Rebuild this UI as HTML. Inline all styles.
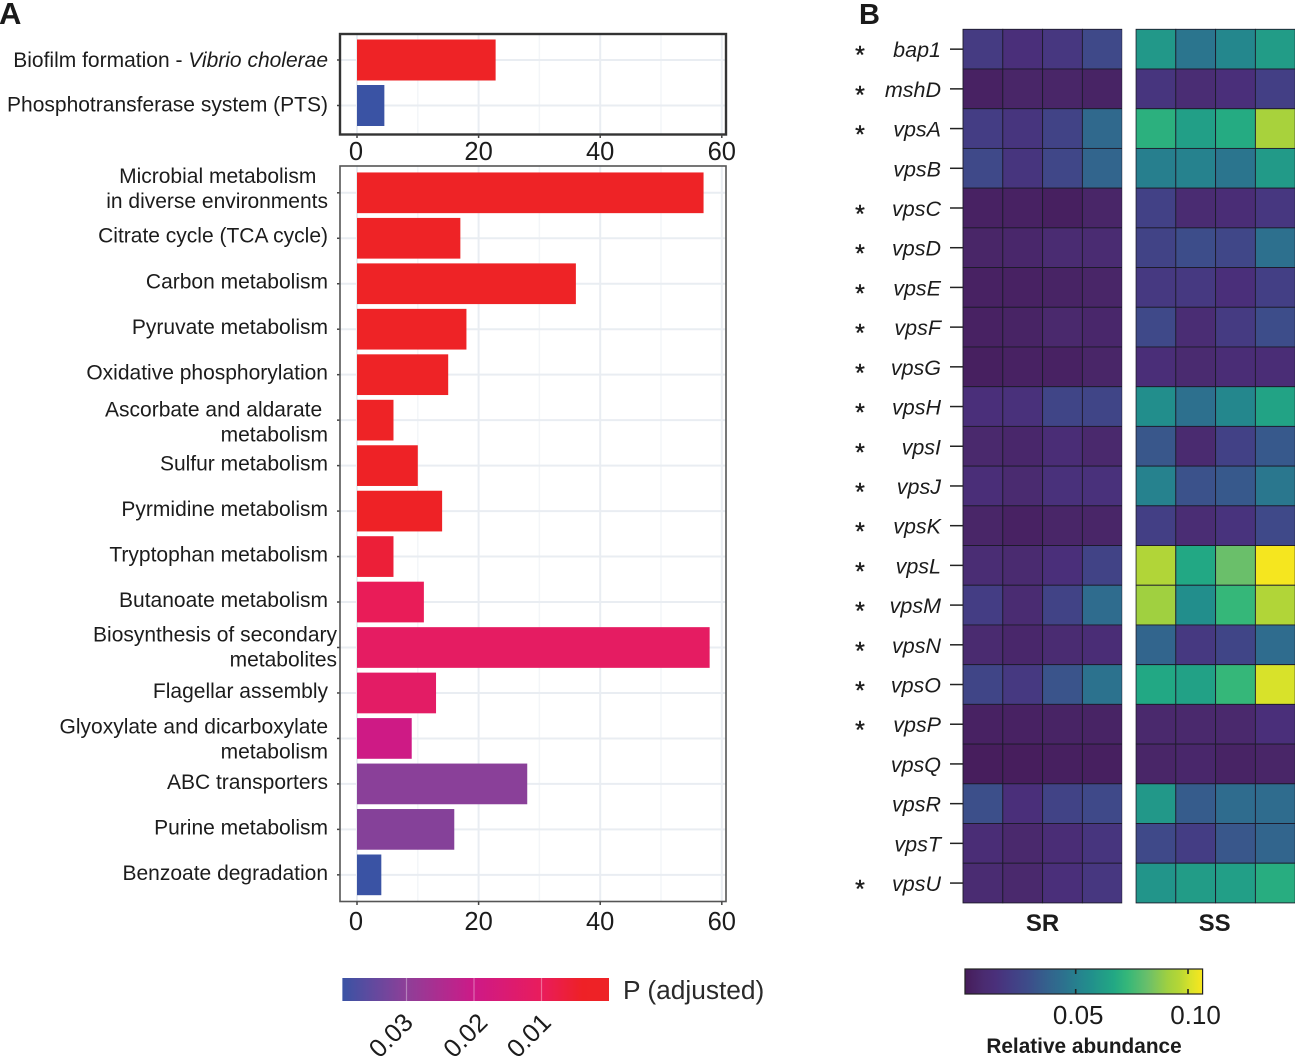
<!DOCTYPE html>
<html lang="en">
<head>
<meta charset="utf-8">
<title>KEGG enrichment and vps gene heatmap</title>
<style>
html,body{margin:0;padding:0;background:#fff;}
svg{display:block;font-family:"Liberation Sans",sans-serif;}
</style>
</head>
<body>
<svg id="figure" width="1295" height="1059" viewBox="0 0 1295 1059" xmlns="http://www.w3.org/2000/svg">
  <defs>
    <linearGradient id="p-gradient" x1="0" x2="1" y1="0" y2="0"></linearGradient>
    <linearGradient id="abundance-gradient" x1="0" x2="1" y1="0" y2="0"></linearGradient>
  </defs>
  <text x="-1" y="24" font-size="31" font-weight="bold" fill="#1a1a1a">A</text>
  <text x="859" y="24" font-size="29" font-weight="bold" fill="#1a1a1a">B</text>
  <g id="bars-layer"></g>
  <g id="heat-layer"></g>
</svg>
<script>
/* ---------- Panel A data ---------- */
const topCategories = [['Biofilm formation - |Vibrio cholerae'], ['Phosphotransferase system (PTS)']];
const topCounts = [22.8, 4.5];
const topPValues = [0.0001, 0.0395];

const mainCategories = [
  ['Microbial metabolism\u00a0\u00a0', 'in diverse environments'],
  ['Citrate cycle (TCA cycle)'],
  ['Carbon metabolism'],
  ['Pyruvate metabolism'],
  ['Oxidative phosphorylation'],
  ['Ascorbate and aldarate\u00a0', 'metabolism'],
  ['Sulfur metabolism'],
  ['Pyrmidine metabolism'],
  ['Tryptophan metabolism'],
  ['Butanoate metabolism'],
  ['Biosynthesis of secondary', 'metabolites'],
  ['Flagellar assembly'],
  ['Glyoxylate and dicarboxylate', 'metabolism'],
  ['ABC transporters'],
  ['Purine metabolism'],
  ['Benzoate degradation']
];
const mainCounts = [57, 17, 36, 18, 15, 6, 10, 14, 6, 11, 58, 13, 9, 28, 16, 4];
const mainPValues = [0.0001, 0.0002, 0.0003, 0.0005, 0.0008, 0.001, 0.0015, 0.002, 0.006, 0.0095, 0.0115, 0.012, 0.0195, 0.0305, 0.031, 0.0395];
const countTicks = [0, 20, 40, 60];
const countMinorTicks = [10, 30, 50];
const pTicks = [0.03, 0.02, 0.01];

/* ---------- Panel B data ---------- */
const genes = ['bap1','mshD','vpsA','vpsB','vpsC','vpsD','vpsE','vpsF','vpsG','vpsH','vpsI','vpsJ','vpsK','vpsL','vpsM','vpsN','vpsO','vpsP','vpsQ','vpsR','vpsT','vpsU'];
const significant = [1,1,1,0,1,1,1,1,1,1,1,1,1,1,1,1,1,1,0,0,0,1];
const groups = ['SR', 'SS'];
const srValues = [
  [.020,.014,.018,.027],[.004,.006,.006,.005],[.021,.017,.024,.041],[.027,.017,.026,.039],
  [.004,.004,.003,.006],[.006,.007,.010,.010],[.004,.004,.005,.006],[.004,.005,.008,.007],
  [.003,.004,.004,.006],[.014,.015,.025,.025],[.008,.007,.012,.008],[.013,.009,.015,.015],
  [.006,.004,.006,.006],[.011,.009,.014,.024],[.021,.010,.024,.042],[.009,.007,.010,.012],
  [.025,.019,.032,.045],[.004,.004,.005,.005],[.002,.002,.003,.003],[.030,.014,.024,.027],
  [.012,.008,.012,.017],[.010,.008,.014,.018]
];
const ssValues = [
  [.060,.046,.053,.062],[.017,.011,.014,.022],[.070,.063,.068,.093],[.050,.051,.046,.061],
  [.023,.010,.012,.018],[.024,.029,.026,.044],[.019,.019,.014,.022],[.027,.011,.020,.029],
  [.013,.009,.012,.012],[.056,.044,.053,.065],[.033,.009,.023,.034],[.051,.031,.034,.047],
  [.022,.011,.016,.027],[.095,.067,.082,.106],[.091,.056,.073,.095],[.039,.019,.025,.042],
  [.067,.064,.073,.101],[.008,.008,.008,.014],[.006,.007,.005,.006],[.060,.035,.042,.042],
  [.027,.021,.033,.039],[.059,.062,.063,.069]
];
const abundanceTicks = [0.05, 0.10];

/* ---------- helpers ---------- */
const NS = 'http://www.w3.org/2000/svg';
function make(parent, tag, attrs, txt) {
  const el = document.createElementNS(NS, tag);
  for (const k in attrs) el.setAttribute(k, attrs[k]);
  if (txt !== undefined) el.textContent = txt;
  parent.appendChild(el);
  return el;
}
function hexToRgb(h) { return [1, 3, 5].map(i => parseInt(h.substr(i, 2), 16)); }
function rampColor(stops, v) {
  if (v <= stops[0][0]) return stops[0][1];
  for (let i = 1; i < stops.length; i++) {
    if (v <= stops[i][0]) {
      const f = (v - stops[i-1][0]) / (stops[i][0] - stops[i-1][0]);
      const a = hexToRgb(stops[i-1][1]), b = hexToRgb(stops[i][1]);
      return 'rgb(' + a.map((c, j) => Math.round(c + (b[j] - c) * f)).join(',') + ')';
    }
  }
  return stops[stops.length-1][1];
}
/* label placement quirks of the multi-line category text in the original figure */
function labelShift(firstLine) {
  if (firstLine.indexOf('Microbial') === 0) return -3;
  if (firstLine.indexOf('Ascorbate') === 0) return 3.5;
  if (firstLine.indexOf('Biosynthesis') === 0) return 1;
  if (firstLine.indexOf('Glyoxylate') === 0) return 2;
  if (firstLine.indexOf('Citrate') === 0) return -1;
  if (firstLine.indexOf('Biofilm') === 0) return 2;
  if (firstLine.indexOf('Phospho') === 0) return 1;
  return 0;
}

/* ---------- scales ---------- */
const xCount = v => 357 + v * 6.08;
const xP = p => 609 - p * 6750;
const xAb = v => 1075.7 + (v - 0.05) * 2246;
const pRamp = [[0,'#ee2326'],[0.004,'#ee2126'],[0.01,'#e91c5c'],[0.02,'#cd1a87'],[0.03,'#8e3f98'],[0.0395,'#3a53a4']];
const abRamp = [[0.0007,'#461c5a'],[0.009,'#4a2b70'],[0.014,'#4a2f7a'],[0.022,'#433f85'],[0.029,'#3d4d8a'],[0.038,'#33638d'],[0.045,'#2c728e'],[0.051,'#26828e'],[0.057,'#21908c'],[0.061,'#229a88'],[0.067,'#22a884'],[0.073,'#35b779'],[0.082,'#6abf6a'],[0.091,'#a0d040'],[0.096,'#b5d636'],[0.101,'#d8e22a'],[0.1065,'#f8e61e']];

/* ---------- Panel A ---------- */
const barsLayer = document.getElementById('bars-layer');
const INK = '#1c1c1c';
function drawBarPanel(name, cats, counts, pvals, top, bottom, firstCenter, pitch, barH, tickLabelY, twoLineOff) {
  const g = make(barsLayer, 'g', {});
  
  
  const left = 340, right = 726;
  countMinorTicks.forEach(t => {
    const l = make(g, 'line', {x1:xCount(t), x2:xCount(t), y1:top, y2:bottom, stroke:'#f3f5f8', 'stroke-width':1.5});
    
    
  });
  countTicks.forEach(t => {
    const l = make(g, 'line', {x1:xCount(t), x2:xCount(t), y1:top, y2:bottom, stroke:'#e9edf2', 'stroke-width':2});
    
    
  });
  cats.forEach((lines, i) => {
    const yc = firstCenter + i * pitch;
    const grid = make(g, 'line', {x1:left, x2:right, y1:yc, y2:yc, stroke:'#e9edf2', 'stroke-width':2});
    
    
  });
  cats.forEach((lines, i) => {
    const yc = firstCenter + i * pitch;
    const bar = make(g, 'rect', {x:xCount(0), y:yc - barH/2, width:xCount(counts[i]) - xCount(0), height:barH, fill:rampColor(pRamp, pvals[i])});
    
    
    const tick = make(g, 'line', {x1:left - 3, x2:left, y1:yc, y2:yc, stroke:'#444', 'stroke-width':1.5});
    
    
    const end = lines[0].indexOf('Biosynthesis') === 0 ? 337 : 328;
    const shift = labelShift(lines[0]);
    lines.forEach((ln, k) => {
      const base = (lines.length === 1 ? yc - 2 + 7 : yc - 1.5 + 7 + (k === 0 ? -twoLineOff : twoLineOff)) + shift;
      const t = make(g, 'text', {x:end, y:base, 'text-anchor':'end', 'font-size':21, fill:INK});
      
      
      const parts = ln.split('|');
      make(t, 'tspan', {}, parts[0]);
      if (parts[1]) make(t, 'tspan', {'font-style':'italic'}, parts[1]);
    });
  });
  const frame = make(g, 'rect', {x:left, y:top, width:right-left, height:bottom-top, fill:'none', stroke: name === 'top-bar-panel' ? '#333' : '#555', 'stroke-width': name === 'top-bar-panel' ? 2.4 : 1.6});
  
  
  countTicks.forEach(t => {
    const tk = make(g, 'line', {x1:xCount(t), x2:xCount(t), y1:bottom, y2:bottom + 3.5, stroke:'#444', 'stroke-width':1.5});
    
    
    const tl = make(g, 'text', {x:xCount(t) - (t === 0 ? 1 : 0), y:tickLabelY, 'text-anchor':'middle', 'font-size':25.5, fill:INK}, String(t));
    
    
  });
}
drawBarPanel('top-bar-panel', topCategories, topCounts, topPValues, 34, 134.5, 60, 45.5, 41, 160, 12.5);
drawBarPanel('main-bar-panel', mainCategories, mainCounts, mainPValues, 166, 901.5, 192.8, 45.47, 40.7, 930, 12.5);

/* P legend */
const pGrad = document.getElementById('p-gradient');
pRamp.slice().reverse().forEach(s => {
  make(pGrad, 'stop', {offset:(xP(s[0]) - xP(0.0395)) / (xP(0) - xP(0.0395)), 'stop-color':s[1]});
});
const pLegend = make(barsLayer, 'g', {});


const pBar = make(pLegend, 'rect', {x:xP(0.0395), y:978, width:xP(0) - xP(0.0395), height:23, fill:'url(#p-gradient)'});


pTicks.forEach(p => {
  const l = make(pLegend, 'line', {x1:xP(p), x2:xP(p), y1:978, y2:1001, stroke:'#fff', 'stroke-opacity':0.35, 'stroke-width':1.2});
  
  
  const ax = xP(p) + (p === 0.01 ? 11 : p === 0.02 ? 15 : 8);
  const t = make(pLegend, 'text', {transform:'translate(' + ax + ',1024) rotate(-45)', 'text-anchor':'end', 'font-size':25.5, fill:INK}, p.toFixed(2));
  
  
});
const pTitle = make(pLegend, 'text', {x:623, y:999, 'font-size':26.3, fill:'#2a2a2a'}, 'P (adjusted)');



/* ---------- Panel B ---------- */
const heatLayer = document.getElementById('heat-layer');
const rowTop = 29.3, rowH = 39.71, cellW = 39.8;
const rowY = i => rowTop + i * rowH;
const panelLefts = [963, 1136];
const panelValues = [srValues, ssValues];
groups.forEach((grp, p) => {
  const g = make(heatLayer, 'g', {});
  
  
  panelValues[p].forEach((row, r) => {
    row.forEach((v, c) => {
      const cell = make(g, 'rect', {x:panelLefts[p] + c * cellW, y:rowY(r), width:cellW, height:rowH, fill:rampColor(abRamp, v), stroke:'#1d1b2b', 'stroke-width':0.9});
      
      
    });
  });
  const lab = make(g, 'text', {x:panelLefts[p] + 2 * cellW - (p === 1 ? 1 : 0), y:931, 'text-anchor':'middle', 'font-size':24, 'font-weight':'bold', fill:INK}, grp);
  
  
});
const gapMask = make(heatLayer, 'rect', {x:1122.2, y:28, width:13.4, height:876, fill:'#fff'});


genes.forEach((gene, i) => {
  const yc = rowY(i) + rowH / 2;
  const tk = make(heatLayer, 'line', {x1:950, x2:963, y1:yc, y2:yc, stroke:'#222', 'stroke-width':1.5});
  
  
  const t = make(heatLayer, 'text', {x:941, y:yc + 8, 'text-anchor':'end', 'font-size':21.5, 'font-style':'italic', fill:INK}, gene);
  
  
  if (significant[i]) {
    const s = make(heatLayer, 'text', {x:860, y:yc + 14.5, 'text-anchor':'middle', 'font-size':25, fill:INK, stroke:INK, 'stroke-width':0.4}, '*');
    
    
  }
});

/* abundance legend */
const abGrad = document.getElementById('abundance-gradient');
abRamp.forEach(s => {
  make(abGrad, 'stop', {offset:(xAb(s[0]) - xAb(0.0007)) / (xAb(0.1065) - xAb(0.0007)), 'stop-color':s[1]});
});
const abLegend = make(heatLayer, 'g', {});


const abBar = make(abLegend, 'rect', {x:xAb(0.0007), y:969, width:xAb(0.1065) - xAb(0.0007), height:25, fill:'url(#abundance-gradient)', stroke:'#222', 'stroke-width':1.2});


abundanceTicks.forEach(v => {
  [[969, 974], [989, 994]].forEach(seg => {
    const l = make(abLegend, 'line', {x1:xAb(v), x2:xAb(v), y1:seg[0], y2:seg[1], stroke:'#222', 'stroke-width':1.6});
    
    
  });
  const t = make(abLegend, 'text', {x:xAb(v) + 2.5 + (v > 0.06 ? 5 : 0), y:1024, 'text-anchor':'middle', 'font-size':26, fill:INK}, v.toFixed(2));
  
  
});
const abTitle = make(abLegend, 'text', {x:1084, y:1053, 'text-anchor':'middle', 'font-size':20.8, 'font-weight':'bold', fill:INK}, 'Relative abundance');


</script>
</body>
</html>
